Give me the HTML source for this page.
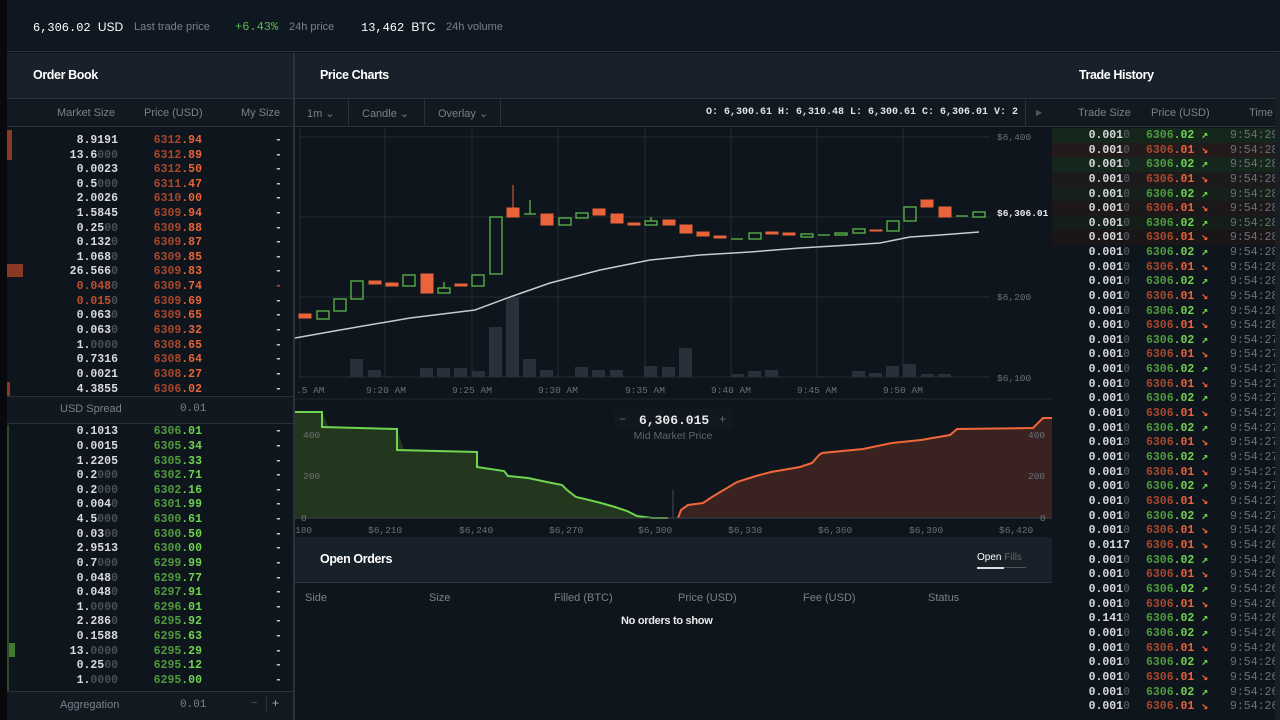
<!DOCTYPE html>
<html><head><meta charset="utf-8"><style>
*{margin:0;padding:0;box-sizing:border-box}
body{width:1280px;height:720px;background:#0f151c;position:relative;overflow:hidden;font-family:"Liberation Sans",sans-serif;color:#c9ccd0}
.abs{position:absolute}
.mono{font-family:"Liberation Mono",monospace}
.r{position:absolute;height:15px;line-height:15px;font-family:"Liberation Mono",monospace;font-size:11.5px;font-weight:bold}
.ob .r{left:0;width:293px}
.ob .s{position:absolute;left:18px;width:100px;text-align:right;color:#d8dadd}
.ob .s i,.th .s i{font-style:normal;color:#4a5058}
.ob .p{position:absolute;left:150px;width:52px;text-align:right}
.ob .m{position:absolute;left:275px;color:#c9ccd0}
.a{color:#a8472c}.a b{color:#e9643a}
.g{color:#4f9a3c}.g b{color:#6fd44f}
.th{left:1052px;width:223px;overflow:hidden}
.th .s{position:absolute;left:0;width:78px;text-align:right;color:#d8dadd}
.th .p{position:absolute;left:94px}
.th .t{position:absolute;left:178px;color:#6a7078;font-weight:normal}
.lbl{font-size:11px;color:#7b818a}
.title{font-size:12.5px;font-weight:bold;color:#fff;letter-spacing:-0.4px}
</style></head><body>
<div class="abs" style="left:0;top:0;width:7px;height:720px;background:#07090c"></div>
<div class="abs" style="left:7px;top:0;width:1273px;height:52px;background:#0f1720;border-bottom:1px solid #2a323c"></div>
<div class="abs mono" style="left:33px;top:20px;font-size:12px;color:#fff">6,306.02 <span style="font-family:'Liberation Sans'">USD</span></div>
<div class="abs lbl" style="left:134px;top:21px">Last trade price</div>
<div class="abs mono" style="left:235px;top:20px;font-size:12px;color:#5cb84a">+6.43%</div>
<div class="abs lbl" style="left:289px;top:21px">24h price</div>
<div class="abs mono" style="left:361px;top:20px;font-size:12px;color:#fff">13,462 <span style="font-family:'Liberation Sans'">BTC</span></div>
<div class="abs lbl" style="left:446px;top:21px">24h volume</div>
<div class="abs" style="left:7px;top:53px;width:1268px;height:46px;background:#18202a;border-bottom:1px solid #2c3440"></div>
<div class="abs" style="left:293px;top:53px;width:2px;height:667px;background:#2a323c"></div>
<div class="abs title" style="left:33px;top:68px">Order Book</div>
<div class="abs title" style="left:320px;top:68px">Price Charts</div>
<div class="abs title" style="left:1079px;top:68px">Trade History</div>
<div class="abs" style="left:7px;top:100px;width:286px;height:27px;background:#121921;border-bottom:1px solid #2a323c"></div>
<div class="abs lbl" style="left:57px;top:107px">Market Size</div>
<div class="abs lbl" style="left:144px;top:107px">Price (USD)</div>
<div class="abs lbl" style="left:241px;top:107px">My Size</div>
<div class="abs" style="left:295px;top:100px;width:757px;height:27px;background:#121921;border-bottom:1px solid #2a323c"></div>
<div class="abs" style="left:348px;top:100px;width:1px;height:27px;background:#2a323c"></div>
<div class="abs" style="left:424px;top:100px;width:1px;height:27px;background:#2a323c"></div>
<div class="abs" style="left:500px;top:100px;width:1px;height:27px;background:#2a323c"></div>
<div class="abs" style="left:1025px;top:100px;width:1px;height:27px;background:#2a323c"></div>
<div class="abs lbl" style="left:307px;top:107px">1m &#8964;</div>
<div class="abs lbl" style="left:362px;top:107px">Candle &#8964;</div>
<div class="abs lbl" style="left:438px;top:107px">Overlay &#8964;</div>
<div class="abs mono" style="left:706px;top:107px;font-size:10px;font-weight:bold;color:#e0e2e5">O: 6,300.61 H: 6,310.48 L: 6,300.61 C: 6,306.01 V: 2</div>
<div class="abs" style="left:1036px;top:108px;font-size:8px;color:#555">&#9654;</div>
<div class="abs" style="left:1052px;top:100px;width:223px;height:27px;background:#121921;border-bottom:1px solid #2a323c"></div>
<div class="abs lbl" style="left:1078px;top:107px">Trade Size</div>
<div class="abs lbl" style="left:1151px;top:107px">Price (USD)</div>
<div class="abs lbl" style="left:1249px;top:107px">Time</div>
<div class="abs" style="left:1275px;top:53px;width:5px;height:667px;background:#1a1f26"></div>

<svg class="abs" style="left:0;top:0" width="1280" height="720">
<g stroke="#222a33" stroke-width="1">
<line x1="298" y1="137" x2="990" y2="137"/><line x1="298" y1="217" x2="990" y2="217"/><line x1="298" y1="297" x2="990" y2="297"/><line x1="298" y1="377" x2="990" y2="377"/>
<line x1="300" y1="128" x2="300" y2="378"/><line x1="385" y1="128" x2="385" y2="378"/><line x1="472" y1="128" x2="472" y2="378"/><line x1="558" y1="128" x2="558" y2="378"/><line x1="645" y1="128" x2="645" y2="378"/><line x1="731" y1="128" x2="731" y2="378"/><line x1="817" y1="128" x2="817" y2="378"/><line x1="903" y1="128" x2="903" y2="378"/>
</g>
<g fill="#2a3039">
<rect x="350" y="359" width="13" height="18"/><rect x="368" y="370" width="13" height="7"/><rect x="420" y="368" width="13" height="9"/><rect x="437" y="368" width="13" height="9"/><rect x="454" y="368" width="13" height="9"/><rect x="472" y="371" width="13" height="6"/><rect x="489" y="327" width="13" height="50"/><rect x="506" y="297" width="13" height="80"/><rect x="523" y="359" width="13" height="18"/><rect x="540" y="370" width="13" height="7"/><rect x="575" y="367" width="13" height="10"/><rect x="592" y="370" width="13" height="7"/><rect x="610" y="370" width="13" height="7"/><rect x="644" y="366" width="13" height="11"/><rect x="662" y="367" width="13" height="10"/><rect x="679" y="348" width="13" height="29"/><rect x="731" y="374" width="13" height="3"/><rect x="748" y="371" width="13" height="6"/><rect x="765" y="370" width="13" height="7"/><rect x="852" y="371" width="13" height="6"/><rect x="869" y="373" width="13" height="4"/><rect x="886" y="366" width="13" height="11"/><rect x="903" y="364" width="13" height="13"/><rect x="921" y="374" width="13" height="3"/><rect x="938" y="374" width="13" height="3"/>
</g>
<polyline fill="none" stroke="#c8cacd" stroke-width="1.5" points="295,338 340,330 410,318 475,310 510,297 550,283 600,270 650,260 700,255 750,252 800,248 850,245 880,243 910,237 940,235 979,232"/>
<g fill="#e9643a" stroke="#e9643a" stroke-width="1">
<rect x="299" y="314" width="12" height="4"/><rect x="369" y="281" width="12" height="3"/><rect x="386" y="283" width="12" height="3"/><rect x="421" y="274" width="12" height="19"/><rect x="455" y="284" width="12" height="2"/><line x1="513" y1="185" x2="513" y2="208"/><rect x="507" y="208" width="12" height="9"/><rect x="541" y="214" width="12" height="11"/><rect x="593" y="209" width="12" height="6"/><rect x="611" y="214" width="12" height="9"/><rect x="628" y="223" width="12" height="2"/><rect x="663" y="220" width="12" height="5"/><rect x="680" y="225" width="12" height="8"/><rect x="697" y="232" width="12" height="4"/><rect x="714" y="236" width="12" height="2"/><rect x="766" y="232" width="12" height="2"/><rect x="783" y="233" width="12" height="2"/><rect x="870" y="230" width="12" height="1"/><rect x="921" y="200" width="12" height="7"/><rect x="939" y="207" width="12" height="10"/>
</g>
<g fill="none" stroke="#5cb84a" stroke-width="1.3">
<rect x="317" y="311" width="12" height="8"/><rect x="334" y="299" width="12" height="12"/><rect x="351" y="281" width="12" height="18"/><rect x="403" y="275" width="12" height="11"/><rect x="438" y="288" width="12" height="5"/><line x1="444" y1="282" x2="444" y2="288"/><rect x="472" y="275" width="12" height="11"/><rect x="490" y="217" width="12" height="57"/><line x1="524" y1="214" x2="536" y2="214"/><line x1="530" y1="200" x2="530" y2="214"/><rect x="559" y="218" width="12" height="7"/><rect x="576" y="213" width="12" height="5"/><rect x="645" y="221" width="12" height="4"/><line x1="651" y1="217" x2="651" y2="221"/><line x1="731" y1="239" x2="743" y2="239"/><rect x="749" y="233" width="12" height="6"/><rect x="801" y="234" width="12" height="3"/><line x1="818" y1="235" x2="830" y2="235"/><rect x="835" y="233" width="12" height="2"/><rect x="853" y="229" width="12" height="4"/><rect x="887" y="221" width="12" height="10"/><rect x="904" y="207" width="12" height="14"/><line x1="956" y1="216" x2="968" y2="216"/><rect x="973" y="212" width="12" height="5"/>
</g>
<g font-family="Liberation Mono,monospace" font-size="9.5" fill="#6b7079">
<text x="997" y="140">$6,400</text><text x="997" y="300">$6,200</text><text x="997" y="381">$6,100</text>
<text x="296" y="393">.5 AM</text><text x="366" y="393">9:20 AM</text><text x="452" y="393">9:25 AM</text><text x="538" y="393">9:30 AM</text><text x="625" y="393">9:35 AM</text><text x="711" y="393">9:40 AM</text><text x="797" y="393">9:45 AM</text><text x="883" y="393">9:50 AM</text>
</g>
<text x="997" y="216" font-family="Liberation Mono,monospace" font-size="9.5" font-weight="bold" fill="#e6e8ea">$6,306.01</text>
<line x1="295" y1="399" x2="1052" y2="399" stroke="#1f262e"/>
<polygon fill="#23371f" points="295,518 295,412 322,412 329,427 397,429 404,450 477,452 479,467 504,471 508,476 528,478 547,482 562,485 567,490 576,497 589,500 601,503 615,507 627,511 637,516 652,518"/>
<polyline fill="none" stroke="#6fd44f" stroke-width="2" points="295,412 322,412 322,427 397,429 397,450 477,452 477,467 504,471 508,476 528,478 547,482 562,485 567,490 576,497 589,500 601,503 615,507 627,511 637,516 652,518 668,518"/>
<polygon fill="#3a2220" points="678,518 681,510 688,505 703,503 712,497 727,488 737,482 756,476 771,472 800,467 812,463 819,455 822,453 863,449 892,443 921,440 950,435 957,429 1033,428 1043,418 1052,418 1052,518"/>
<polyline fill="none" stroke="#f0683a" stroke-width="2" points="678,518 681,510 688,505 703,503 712,497 727,488 737,482 756,476 771,472 800,467 812,463 819,455 822,453 863,449 892,443 921,440 950,435 957,429 1033,428 1043,418 1052,418"/>
<line x1="673" y1="490" x2="673" y2="518" stroke="#444b55"/>
<line x1="295" y1="518" x2="1052" y2="518" stroke="#3a414a"/>
<g font-family="Liberation Mono,monospace" font-size="9.5" fill="#6b7079">
<text x="303" y="438">400</text><text x="303" y="479">200</text><text x="301" y="521">0</text>
<text x="1028" y="438">400</text><text x="1028" y="479">200</text><text x="1040" y="521">0</text>
<text x="295" y="533">180</text><text x="368" y="533">$6,210</text><text x="459" y="533">$6,240</text><text x="549" y="533">$6,270</text><text x="638" y="533">$6,300</text><text x="728" y="533">$6,330</text><text x="818" y="533">$6,360</text><text x="909" y="533">$6,390</text><text x="999" y="533">$6,420</text>
</g>
<rect x="614" y="409" width="119" height="20" fill="#121820"/>
<text x="619" y="423" font-family="Liberation Mono" font-size="12" fill="#666">−</text>
<text x="639" y="424" font-family="Liberation Mono" font-size="13" font-weight="bold" fill="#e8eaec">6,306.015</text>
<text x="719" y="423" font-family="Liberation Mono" font-size="12" fill="#666">+</text>
<text x="673" y="439" text-anchor="middle" font-family="Liberation Sans" font-size="10.5" fill="#5e646c">Mid Market Price</text>
</svg>

<div class="abs" style="left:295px;top:537px;width:757px;height:46px;background:#18202a;border-bottom:1px solid #2c3440"></div>
<div class="abs title" style="left:320px;top:552px">Open Orders</div>
<div class="abs" style="left:977px;top:552px;font-size:10px;color:#fff">Open <span style="color:#666">Fills</span></div>
<div class="abs" style="left:977px;top:567px;width:27px;height:2px;background:#ddd"></div>
<div class="abs" style="left:1004px;top:567px;width:22px;height:1px;background:#555"></div>
<div class="abs lbl" style="left:305px;top:592px">Side</div>
<div class="abs lbl" style="left:429px;top:592px">Size</div>
<div class="abs lbl" style="left:554px;top:592px">Filled (BTC)</div>
<div class="abs lbl" style="left:678px;top:592px">Price (USD)</div>
<div class="abs lbl" style="left:803px;top:592px">Fee (USD)</div>
<div class="abs lbl" style="left:928px;top:592px">Status</div>
<div class="abs" style="left:621px;top:615px;font-size:11px;font-weight:bold;color:#e8eaec;letter-spacing:-0.3px">No orders to show</div>

<div class="abs" style="left:7px;top:130px;width:5px;height:30px;background:#8a3a24"></div>
<div class="abs" style="left:7px;top:264px;width:16px;height:13px;background:#8a3a24"></div>
<div class="abs" style="left:7px;top:382px;width:3px;height:14px;background:#8a3a24"></div>
<div class="abs" style="left:7px;top:643px;width:8px;height:14px;background:#3f7a30"></div>
<div class="abs" style="left:7px;top:425px;width:2px;height:270px;background:#2c4a26"></div>
<div class="abs" style="left:0;top:128px;width:293px;height:4px;overflow:hidden"><div class="r" style="top:-11px;left:0;width:293px"><span style="position:absolute;left:18px;width:100px;text-align:right;color:#888">2.9.02</span><span style="position:absolute;left:150px;width:52px;text-align:right;color:#a8472c">6313.02</span></div></div>
<div class="ob">
<div class="r" style="top:133px"><span class="s">8.9191</span><span class="p a">6312<b>.94</b></span><span class="m">-</span></div>
<div class="r" style="top:148px"><span class="s">13.6<i>000</i></span><span class="p a">6312<b>.89</b></span><span class="m">-</span></div>
<div class="r" style="top:162px"><span class="s">0.0023</span><span class="p a">6312<b>.50</b></span><span class="m">-</span></div>
<div class="r" style="top:177px"><span class="s">0.5<i>000</i></span><span class="p a">6311<b>.47</b></span><span class="m">-</span></div>
<div class="r" style="top:191px"><span class="s">2.0026</span><span class="p a">6310<b>.00</b></span><span class="m">-</span></div>
<div class="r" style="top:206px"><span class="s">1.5845</span><span class="p a">6309<b>.94</b></span><span class="m">-</span></div>
<div class="r" style="top:221px"><span class="s">0.25<i>00</i></span><span class="p a">6309<b>.88</b></span><span class="m">-</span></div>
<div class="r" style="top:235px"><span class="s">0.132<i>0</i></span><span class="p a">6309<b>.87</b></span><span class="m">-</span></div>
<div class="r" style="top:250px"><span class="s">1.068<i>0</i></span><span class="p a">6309<b>.85</b></span><span class="m">-</span></div>
<div class="r" style="top:264px"><span class="s">26.566<i>0</i></span><span class="p a">6309<b>.83</b></span><span class="m">-</span></div>
<div class="r" style="top:279px"><span class="s" style="color:#c0502e">0.048<i>0</i></span><span class="p a">6309<b>.74</b></span><span class="m" style="color:#c0502e">-</span></div>
<div class="r" style="top:294px"><span class="s" style="color:#c0502e">0.015<i>0</i></span><span class="p a">6309<b>.69</b></span><span class="m">-</span></div>
<div class="r" style="top:308px"><span class="s">0.063<i>0</i></span><span class="p a">6309<b>.65</b></span><span class="m">-</span></div>
<div class="r" style="top:323px"><span class="s">0.063<i>0</i></span><span class="p a">6309<b>.32</b></span><span class="m">-</span></div>
<div class="r" style="top:338px"><span class="s">1.<i>0000</i></span><span class="p a">6308<b>.65</b></span><span class="m">-</span></div>
<div class="r" style="top:352px"><span class="s">0.7316</span><span class="p a">6308<b>.64</b></span><span class="m">-</span></div>
<div class="r" style="top:367px"><span class="s">0.0021</span><span class="p a">6308<b>.27</b></span><span class="m">-</span></div>
<div class="r" style="top:382px"><span class="s">4.3855</span><span class="p a">6306<b>.02</b></span><span class="m">-</span></div>
</div>
<div class="abs" style="left:7px;top:396px;width:286px;height:28px;background:#111820;border-top:1px solid #2a323c;border-bottom:1px solid #2a323c"></div>
<div class="abs lbl" style="left:60px;top:403px">USD Spread</div>
<div class="abs mono" style="left:180px;top:403px;font-size:11px;color:#7b818a">0.01</div>
<div class="ob">
<div class="r" style="top:424px"><span class="s">0.1013</span><span class="p g">6306<b>.01</b></span><span class="m">-</span></div>
<div class="r" style="top:439px"><span class="s">0.0015</span><span class="p g">6305<b>.34</b></span><span class="m">-</span></div>
<div class="r" style="top:454px"><span class="s">1.2205</span><span class="p g">6305<b>.33</b></span><span class="m">-</span></div>
<div class="r" style="top:468px"><span class="s">0.2<i>000</i></span><span class="p g">6302<b>.71</b></span><span class="m">-</span></div>
<div class="r" style="top:483px"><span class="s">0.2<i>000</i></span><span class="p g">6302<b>.16</b></span><span class="m">-</span></div>
<div class="r" style="top:497px"><span class="s">0.004<i>0</i></span><span class="p g">6301<b>.99</b></span><span class="m">-</span></div>
<div class="r" style="top:512px"><span class="s">4.5<i>000</i></span><span class="p g">6300<b>.61</b></span><span class="m">-</span></div>
<div class="r" style="top:527px"><span class="s">0.03<i>00</i></span><span class="p g">6300<b>.50</b></span><span class="m">-</span></div>
<div class="r" style="top:541px"><span class="s">2.9513</span><span class="p g">6300<b>.00</b></span><span class="m">-</span></div>
<div class="r" style="top:556px"><span class="s">0.7<i>000</i></span><span class="p g">6299<b>.99</b></span><span class="m">-</span></div>
<div class="r" style="top:571px"><span class="s">0.048<i>0</i></span><span class="p g">6299<b>.77</b></span><span class="m">-</span></div>
<div class="r" style="top:585px"><span class="s">0.048<i>0</i></span><span class="p g">6297<b>.91</b></span><span class="m">-</span></div>
<div class="r" style="top:600px"><span class="s">1.<i>0000</i></span><span class="p g">6296<b>.01</b></span><span class="m">-</span></div>
<div class="r" style="top:614px"><span class="s">2.286<i>0</i></span><span class="p g">6295<b>.92</b></span><span class="m">-</span></div>
<div class="r" style="top:629px"><span class="s">0.1588</span><span class="p g">6295<b>.63</b></span><span class="m">-</span></div>
<div class="r" style="top:644px"><span class="s">13.<i>0000</i></span><span class="p g">6295<b>.29</b></span><span class="m">-</span></div>
<div class="r" style="top:658px"><span class="s">0.25<i>00</i></span><span class="p g">6295<b>.12</b></span><span class="m">-</span></div>
<div class="r" style="top:673px"><span class="s">1.<i>0000</i></span><span class="p g">6295<b>.00</b></span><span class="m">-</span></div>
</div>
<div class="abs" style="left:7px;top:691px;width:286px;height:29px;background:#121921;border-top:1px solid #2a323c"></div>
<div class="abs lbl" style="left:60px;top:699px">Aggregation</div>
<div class="abs mono" style="left:180px;top:699px;font-size:11px;color:#7b818a">0.01</div>
<div class="abs" style="left:251px;top:697px;color:#555;font-size:11px">−</div>
<div class="abs" style="left:266px;top:696px;width:18px;height:17px;border-left:1px solid #2a323c;color:#aaa;font-size:12px;text-align:center">+</div>

<div class="abs" style="left:1052px;top:128px;width:223px;height:15px;background:#15271c"></div>
<div class="abs" style="left:1052px;top:143px;width:223px;height:15px;background:#221a1b"></div>
<div class="abs" style="left:1052px;top:157px;width:223px;height:15px;background:#15271c"></div>
<div class="abs" style="left:1052px;top:172px;width:223px;height:15px;background:#1d1a1c"></div>
<div class="abs" style="left:1052px;top:187px;width:223px;height:15px;background:#142019"></div>
<div class="abs" style="left:1052px;top:201px;width:223px;height:15px;background:#1c1719"></div>
<div class="abs" style="left:1052px;top:216px;width:223px;height:15px;background:#141d18"></div>
<div class="abs" style="left:1052px;top:230px;width:223px;height:15px;background:#1a1618"></div>
<div>
<div class="r th" style="top:128px"><span class="s">0.001<i>0</i></span><span class="p g">6306<b>.02 ↗</b></span><span class="t">9:54:29</span></div>
<div class="r th" style="top:143px"><span class="s">0.001<i>0</i></span><span class="p a">6306<b>.01 ↘</b></span><span class="t">9:54:28</span></div>
<div class="r th" style="top:157px"><span class="s">0.001<i>0</i></span><span class="p g">6306<b>.02 ↗</b></span><span class="t">9:54:28</span></div>
<div class="r th" style="top:172px"><span class="s">0.001<i>0</i></span><span class="p a">6306<b>.01 ↘</b></span><span class="t">9:54:28</span></div>
<div class="r th" style="top:187px"><span class="s">0.001<i>0</i></span><span class="p g">6306<b>.02 ↗</b></span><span class="t">9:54:28</span></div>
<div class="r th" style="top:201px"><span class="s">0.001<i>0</i></span><span class="p a">6306<b>.01 ↘</b></span><span class="t">9:54:28</span></div>
<div class="r th" style="top:216px"><span class="s">0.001<i>0</i></span><span class="p g">6306<b>.02 ↗</b></span><span class="t">9:54:28</span></div>
<div class="r th" style="top:230px"><span class="s">0.001<i>0</i></span><span class="p a">6306<b>.01 ↘</b></span><span class="t">9:54:28</span></div>
<div class="r th" style="top:245px"><span class="s">0.001<i>0</i></span><span class="p g">6306<b>.02 ↗</b></span><span class="t">9:54:28</span></div>
<div class="r th" style="top:260px"><span class="s">0.001<i>0</i></span><span class="p a">6306<b>.01 ↘</b></span><span class="t">9:54:28</span></div>
<div class="r th" style="top:274px"><span class="s">0.001<i>0</i></span><span class="p g">6306<b>.02 ↗</b></span><span class="t">9:54:28</span></div>
<div class="r th" style="top:289px"><span class="s">0.001<i>0</i></span><span class="p a">6306<b>.01 ↘</b></span><span class="t">9:54:28</span></div>
<div class="r th" style="top:304px"><span class="s">0.001<i>0</i></span><span class="p g">6306<b>.02 ↗</b></span><span class="t">9:54:28</span></div>
<div class="r th" style="top:318px"><span class="s">0.001<i>0</i></span><span class="p a">6306<b>.01 ↘</b></span><span class="t">9:54:28</span></div>
<div class="r th" style="top:333px"><span class="s">0.001<i>0</i></span><span class="p g">6306<b>.02 ↗</b></span><span class="t">9:54:27</span></div>
<div class="r th" style="top:347px"><span class="s">0.001<i>0</i></span><span class="p a">6306<b>.01 ↘</b></span><span class="t">9:54:27</span></div>
<div class="r th" style="top:362px"><span class="s">0.001<i>0</i></span><span class="p g">6306<b>.02 ↗</b></span><span class="t">9:54:27</span></div>
<div class="r th" style="top:377px"><span class="s">0.001<i>0</i></span><span class="p a">6306<b>.01 ↘</b></span><span class="t">9:54:27</span></div>
<div class="r th" style="top:391px"><span class="s">0.001<i>0</i></span><span class="p g">6306<b>.02 ↗</b></span><span class="t">9:54:27</span></div>
<div class="r th" style="top:406px"><span class="s">0.001<i>0</i></span><span class="p a">6306<b>.01 ↘</b></span><span class="t">9:54:27</span></div>
<div class="r th" style="top:421px"><span class="s">0.001<i>0</i></span><span class="p g">6306<b>.02 ↗</b></span><span class="t">9:54:27</span></div>
<div class="r th" style="top:435px"><span class="s">0.001<i>0</i></span><span class="p a">6306<b>.01 ↘</b></span><span class="t">9:54:27</span></div>
<div class="r th" style="top:450px"><span class="s">0.001<i>0</i></span><span class="p g">6306<b>.02 ↗</b></span><span class="t">9:54:27</span></div>
<div class="r th" style="top:465px"><span class="s">0.001<i>0</i></span><span class="p a">6306<b>.01 ↘</b></span><span class="t">9:54:27</span></div>
<div class="r th" style="top:479px"><span class="s">0.001<i>0</i></span><span class="p g">6306<b>.02 ↗</b></span><span class="t">9:54:27</span></div>
<div class="r th" style="top:494px"><span class="s">0.001<i>0</i></span><span class="p a">6306<b>.01 ↘</b></span><span class="t">9:54:27</span></div>
<div class="r th" style="top:509px"><span class="s">0.001<i>0</i></span><span class="p g">6306<b>.02 ↗</b></span><span class="t">9:54:27</span></div>
<div class="r th" style="top:523px"><span class="s">0.001<i>0</i></span><span class="p a">6306<b>.01 ↘</b></span><span class="t">9:54:26</span></div>
<div class="r th" style="top:538px"><span class="s">0.0117</span><span class="p a">6306<b>.01 ↘</b></span><span class="t">9:54:26</span></div>
<div class="r th" style="top:553px"><span class="s">0.001<i>0</i></span><span class="p g">6306<b>.02 ↗</b></span><span class="t">9:54:26</span></div>
<div class="r th" style="top:567px"><span class="s">0.001<i>0</i></span><span class="p a">6306<b>.01 ↘</b></span><span class="t">9:54:26</span></div>
<div class="r th" style="top:582px"><span class="s">0.001<i>0</i></span><span class="p g">6306<b>.02 ↗</b></span><span class="t">9:54:26</span></div>
<div class="r th" style="top:597px"><span class="s">0.001<i>0</i></span><span class="p a">6306<b>.01 ↘</b></span><span class="t">9:54:26</span></div>
<div class="r th" style="top:611px"><span class="s">0.141<i>0</i></span><span class="p g">6306<b>.02 ↗</b></span><span class="t">9:54:26</span></div>
<div class="r th" style="top:626px"><span class="s">0.001<i>0</i></span><span class="p g">6306<b>.02 ↗</b></span><span class="t">9:54:26</span></div>
<div class="r th" style="top:641px"><span class="s">0.001<i>0</i></span><span class="p a">6306<b>.01 ↘</b></span><span class="t">9:54:26</span></div>
<div class="r th" style="top:655px"><span class="s">0.001<i>0</i></span><span class="p g">6306<b>.02 ↗</b></span><span class="t">9:54:26</span></div>
<div class="r th" style="top:670px"><span class="s">0.001<i>0</i></span><span class="p a">6306<b>.01 ↘</b></span><span class="t">9:54:26</span></div>
<div class="r th" style="top:685px"><span class="s">0.001<i>0</i></span><span class="p g">6306<b>.02 ↗</b></span><span class="t">9:54:26</span></div>
<div class="r th" style="top:699px"><span class="s">0.001<i>0</i></span><span class="p a">6306<b>.01 ↘</b></span><span class="t">9:54:26</span></div>
</div>
</body></html>
